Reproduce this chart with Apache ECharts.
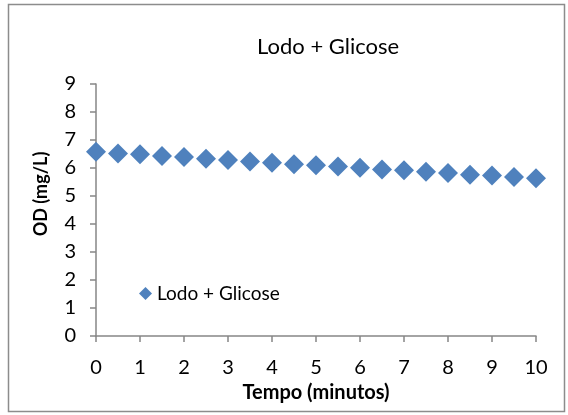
<!DOCTYPE html>
<html>
<head>
<meta charset="utf-8">
<script src="https://cdn.jsdelivr.net/npm/echarts@6/dist/echarts.min.js"></script>
<style>
html, body { margin: 0; padding: 0; background: #fff; }
#chart { width: 568px; height: 415px; }
</style>
</head>
<body>
<div id="chart"></div>
<script>
// dados
var tempo = [0, 0.5, 1, 1.5, 2, 2.5, 3, 3.5, 4, 4.5, 5, 5.5, 6, 6.5, 7, 7.5, 8, 8.5, 9, 9.5, 10];
var od = [6.58, 6.52, 6.49, 6.43, 6.39, 6.33, 6.29, 6.23, 6.19, 6.13, 6.10, 6.05, 6.01, 5.95, 5.92, 5.87, 5.82, 5.76, 5.73, 5.68, 5.63];
var serieNome = 'Lodo + Glicose';

var myChart = echarts.init(document.getElementById('chart'));
var fonte = 'Lato, "Open Sans", sans-serif';

var pontos = [];
for (var i = 0; i < tempo.length; i++) {
	pontos.push([tempo[i], od[i]]);
}

var option = {
	animation: false,
	color: ['#4F81BD'],
	title: {
		text: 'Lodo + Glicose',
		left: 252,
		top: 31,
		textStyle: {
			fontFamily: fonte,
			fontSize: 22,
			fontWeight: 'normal',
			color: '#000'
		}
	},
	legend: {
		left: 134,
		top: 279,
		icon: 'diamond',
		itemWidth: 13,
		itemHeight: 13,
		itemGap: 4,
		textStyle: {
			fontFamily: fonte,
			fontSize: 19,
			color: '#000'
		},
		data: [serieNome]
	},
	grid: {
		left: 96,
		right: 32,
		top: 84,
		bottom: 79,
		containLabel: false
	},
	xAxis: {
		type: 'value',
		min: 0,
		max: 10,
		interval: 1,
		name: 'Tempo (minutos)',
		nameLocation: 'middle',
		nameGap: 47,
		nameTextStyle: {
			fontFamily: fonte,
			fontSize: 20,
			fontWeight: 'bold',
			color: '#000'
		},
		axisLine: { show: true, onZero: false, lineStyle: { color: '#868686', width: 1.5 } },
		axisTick: { show: true, length: 6, lineStyle: { color: '#868686', width: 1.5 } },
		axisLabel: {
			margin: 22,
			fontFamily: fonte,
			fontSize: 20,
			color: '#000'
		},
		splitLine: { show: false }
	},
	yAxis: {
		type: 'value',
		min: 0,
		max: 9,
		interval: 1,
		name: 'OD (mg/L)',
		nameLocation: 'middle',
		nameGap: 46,
		nameTextStyle: {
			fontFamily: fonte,
			fontSize: 18,
			fontWeight: 'bold',
			color: '#000',
			padding: [0, 0, 0, 32]
		},
		axisLine: { show: true, lineStyle: { color: '#868686', width: 1.5 } },
		axisTick: { show: true, length: 6, lineStyle: { color: '#868686', width: 1.5 } },
		axisLabel: {
			margin: 20,
			fontFamily: fonte,
			fontSize: 20,
			color: '#000'
		},
		splitLine: { show: false }
	},
	graphic: [{
		type: 'rect',
		shape: { x: 8.5, y: 4.5, width: 556, height: 407 },
		style: { fill: 'none', stroke: '#8c8c8c', lineWidth: 1.5 },
		silent: true
	}],
	series: [{
		name: serieNome,
		type: 'scatter',
		symbol: 'diamond',
		symbolSize: 20,
		itemStyle: { color: '#4F81BD', opacity: 1 },
		data: pontos
	}]
};

myChart.setOption(option);
window.onresize = myChart.resize;
</script>
</body>
</html>
